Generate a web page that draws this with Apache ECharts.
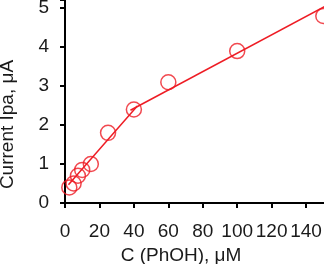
<!DOCTYPE html>
<html><head><meta charset="utf-8">
<script src="https://cdn.jsdelivr.net/npm/echarts@6/dist/echarts.min.js"></script>
<style>html,body{margin:0;padding:0;background:#fff}#c{width:324px;height:264px}</style>
</head><body><div id="c"></div>
<script>
const concentration = [2.5, 5, 7.5, 10, 15, 25, 40, 60, 100, 150];
const current = [0.4, 0.5, 0.7, 0.85, 1.0, 1.8, 2.4, 3.1, 3.9, 4.8];
const fitLow = [[2, 0.47], [42, 2.49]];
const fitHigh = [[38, 2.38], [151, 5.05]];
const xTicks = [0, 20, 40, 60, 80, 100, 120, 140];
const yTicks = [0, 1, 2, 3, 4, 5];

const chart = echarts.init(document.getElementById('c'), null, {renderer: 'canvas'});
const red = '#ee1c24';
const txt = '#1a1a1a';
const font = 'Liberation Sans';
chart.setOption({
  animation: false,
  grid: {left: 65, right: 0, top: 0, bottom: 61, containLabel: false, outerBoundsMode: 'none'},
  xAxis: {
    type: 'value', min: 0, max: 150.4, interval: 20,
    name: 'C (PhOH), μM', nameLocation: 'middle', nameGap: 42,
    nameTextStyle: {fontFamily: font, fontSize: 19, color: txt, padding: [0, 27, 0, 0]},
    axisLine: {lineStyle: {color: '#000', width: 2}},
    axisTick: {show: true, length: 5, inside: false, lineStyle: {color: '#000', width: 2}},
    axisLabel: {fontFamily: font, fontSize: 19, color: txt, margin: 19, showMaxLabel: false,
      formatter: v => xTicks.includes(v) ? String(v) : ''},
    splitLine: {show: false}
  },
  yAxis: {
    type: 'value', min: 0, max: 5.21, interval: 1,
    name: 'Current Ipa, μA', nameLocation: 'middle', nameGap: 48,
    nameTextStyle: {fontFamily: font, fontSize: 19, color: txt, padding: [0, 46, 0, 0]},
    axisLine: {lineStyle: {color: '#000', width: 2}},
    axisTick: {show: true, length: 5, lineStyle: {color: '#000', width: 2}},
    axisLabel: {fontFamily: font, fontSize: 19, color: txt, margin: 16, showMaxLabel: true,
      formatter: v => yTicks.includes(v) ? String(v) : ''},
    splitLine: {show: false}
  },
  series: [
    {type: 'line', data: fitLow, symbol: 'none', lineStyle: {color: red, width: 1.5}, clip: false},
    {type: 'line', data: fitHigh, symbol: 'none', lineStyle: {color: red, width: 1.5}, clip: false},
    {type: 'scatter', data: concentration.map((x, i) => [x, current[i]]), symbol: 'circle', symbolSize: 15,
      itemStyle: {color: 'transparent', borderColor: red, borderWidth: 1.5}, clip: false}
  ]
});
</script></body></html>
